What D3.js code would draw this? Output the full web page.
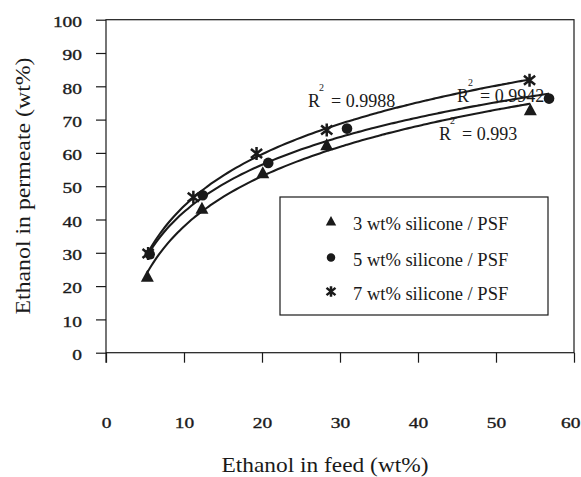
<!DOCTYPE html>
<html><head><meta charset="utf-8">
<script src="https://cdn.jsdelivr.net/npm/d3@7"></script>
<style>
html,body{margin:0;padding:0;background:#fff;}
</style></head>
<body>
<svg id="chart" width="581" height="477"></svg>
<script>
// ---- data ----
const seriesNames = ["3 wt% silicone / PSF", "5 wt% silicone / PSF", "7 wt% silicone / PSF"];
const feed3 = [5.3, 12.3, 20.1, 28.3, 54.4];
const perm3 = [22.8, 43.2, 53.9, 62.3, 72.8];
const feed5 = [5.6, 12.4, 20.8, 30.9, 56.8];
const perm5 = [29.6, 47.3, 57.0, 67.3, 76.3];
const feed7 = [5.4, 11.2, 19.3, 28.3, 54.3];
const perm7 = [29.8, 46.7, 59.8, 66.9, 81.8];
const r2Labels = ["0.993", "0.9942", "0.9988"];
const xTicks = [0, 10, 20, 30, 40, 50, 60];
const yTicks = [0, 10, 20, 30, 40, 50, 60, 70, 80, 90, 100];
const xTitle = "Ethanol  in feed (wt%)";
const yTitle = "Ethanol in  permeate (wt%)";

const FONT = '"Liberation Serif", "DejaVu Serif", "Times New Roman", Times, serif';

const series = [
  {name: seriesNames[0], xs: feed3, ys: perm3, marker: "triangle", r2: r2Labels[0]},
  {name: seriesNames[1], xs: feed5, ys: perm5, marker: "circle", r2: r2Labels[1]},
  {name: seriesNames[2], xs: feed7, ys: perm7, marker: "star", r2: r2Labels[2]}
];

const svg = d3.select("#chart");
const L = 106, R = 574, T = 19.7, B = 352.7;
const x = d3.scaleLinear().domain([0, 60]).range([L, R]);
const y = d3.scaleLinear().domain([0, 100]).range([B, T]);
const INK = "#1a1a1a";

// frame
svg.append("rect").attr("x", L).attr("y", T).attr("width", R - L).attr("height", B - T)
  .attr("fill", "none").attr("stroke", INK).attr("stroke-width", 1.2);

function styleTickText(sel) {
  sel.style("font-family", FONT).style("font-size", "15px").attr("fill", INK)
    .attr("stroke", INK).attr("stroke-width", 0.35)
    .attr("lengthAdjust", "spacingAndGlyphs")
    .attr("textLength", function() { return this.textContent.length * 9.7; });
}

// y axis
const yAxis = d3.axisLeft(y).tickValues(yTicks).tickSize(10).tickPadding(14).tickFormat(d3.format("d"));
const gy = svg.append("g").attr("transform", `translate(${L},0)`).call(yAxis);
gy.select(".domain").remove();
gy.selectAll(".tick line").attr("stroke", INK).attr("stroke-width", 1.2);
gy.selectAll(".tick text").call(styleTickText).attr("dy", "0.45em");
// y-axis extension below 0
svg.append("line").attr("x1", L).attr("x2", L).attr("y1", B).attr("y2", B + 10).attr("stroke", INK).attr("stroke-width", 1.2);

// x axis
const xAxis = d3.axisBottom(x).tickValues(xTicks).tickSize(10).tickPadding(55).tickFormat(d3.format("d"));
const gx = svg.append("g").attr("transform", `translate(0,${B})`).call(xAxis);
gx.select(".domain").remove();
gx.selectAll(".tick line").attr("stroke", INK).attr("stroke-width", 1.2);
gx.selectAll(".tick text").call(styleTickText);
gx.selectAll(".tick text").filter(d => d === 60).attr("text-anchor", "end").attr("dx", 6);

// titles
svg.append("text").attr("x", 325).attr("y", 472).attr("text-anchor", "middle")
  .style("font-family", FONT).style("font-size", "22px").attr("fill", INK)
  .attr("textLength", 207).attr("lengthAdjust", "spacingAndGlyphs").text(xTitle);
svg.append("text").attr("transform", "translate(30,186) rotate(-90)").attr("text-anchor", "middle")
  .style("font-family", FONT).style("font-size", "22px").attr("fill", INK)
  .attr("textLength", 257).attr("lengthAdjust", "spacingAndGlyphs").text(yTitle);

// log trendlines (least squares fit of y = a ln x + b)
function logFit(xs, ys) {
  const lx = xs.map(Math.log);
  const mx = d3.mean(lx), my = d3.mean(ys);
  let sxy = 0, sxx = 0;
  lx.forEach((v, i) => { sxy += (v - mx) * (ys[i] - my); sxx += (v - mx) * (v - mx); });
  const a = sxy / sxx, b = my - a * mx;
  return v => a * Math.log(v) + b;
}
const line = d3.line().x(d => x(d[0])).y(d => y(d[1])).curve(d3.curveBasis);
series.forEach(s => {
  const f = logFit(s.xs, s.ys);
  const x0 = d3.min(s.xs), x1 = d3.max(s.xs);
  const pts = d3.range(0, 101).map(i => { const v = x0 + (x1 - x0) * i / 100; return [v, f(v)]; });
  svg.append("path").attr("d", line(pts)).attr("fill", "none").attr("stroke", INK).attr("stroke-width", 2.1);
});

// markers
function drawMarker(g, type, cx, cy, k) {
  if (type === "triangle") {
    g.append("path").attr("d", `M${cx},${cy - 7 * k}L${cx + 6.5 * k},${cy + 5 * k}L${cx - 6.5 * k},${cy + 5 * k}Z`).attr("fill", INK);
  } else if (type === "circle") {
    g.append("circle").attr("cx", cx).attr("cy", cy).attr("r", 5.3 * k).attr("fill", INK);
  } else {
    const r = 6.5 * k;
    g.append("path").attr("d",
      `M${cx},${cy - r}L${cx},${cy + r}M${cx - 5.6 * k},${cy - 4.5 * k}L${cx + 5.6 * k},${cy + 4.5 * k}M${cx - 5.6 * k},${cy + 4.5 * k}L${cx + 5.6 * k},${cy - 4.5 * k}`)
      .attr("stroke", INK).attr("stroke-width", 2.5).attr("fill", "none");
  }
}
series.forEach(s => {
  const g = svg.append("g");
  s.xs.forEach((v, i) => drawMarker(g, s.marker, x(v), y(s.ys[i]), 1));
});

// R^2 labels
const r2Pos = [[439, 140], [457, 102], [308, 107]];
series.forEach((s, i) => {
  const [px, py] = r2Pos[i];
  const g = svg.append("g").style("font-family", FONT).attr("fill", INK);
  g.append("text").attr("x", px).attr("y", py).style("font-size", "18px").text("R");
  g.append("text").attr("x", px + 11).attr("y", py - 16).style("font-size", "10px").text("2");
  g.append("text").attr("x", px + 23).attr("y", py).style("font-size", "18px").text("= " + s.r2);
});

// legend
const lg = svg.append("g");
lg.append("rect").attr("x", 280).attr("y", 197).attr("width", 268).attr("height", 118)
  .attr("fill", "#fff").attr("stroke", INK).attr("stroke-width", 1.2);
const rows = [221.5, 257.5, 291.5];
series.forEach((s, i) => {
  drawMarker(lg, s.marker, 331, rows[i], 0.8);
  lg.append("text").attr("x", 353).attr("y", rows[i] + 8)
    .style("font-family", FONT).style("font-size", "18.5px").attr("fill", INK).text(s.name);
});
</script>
</body></html>
